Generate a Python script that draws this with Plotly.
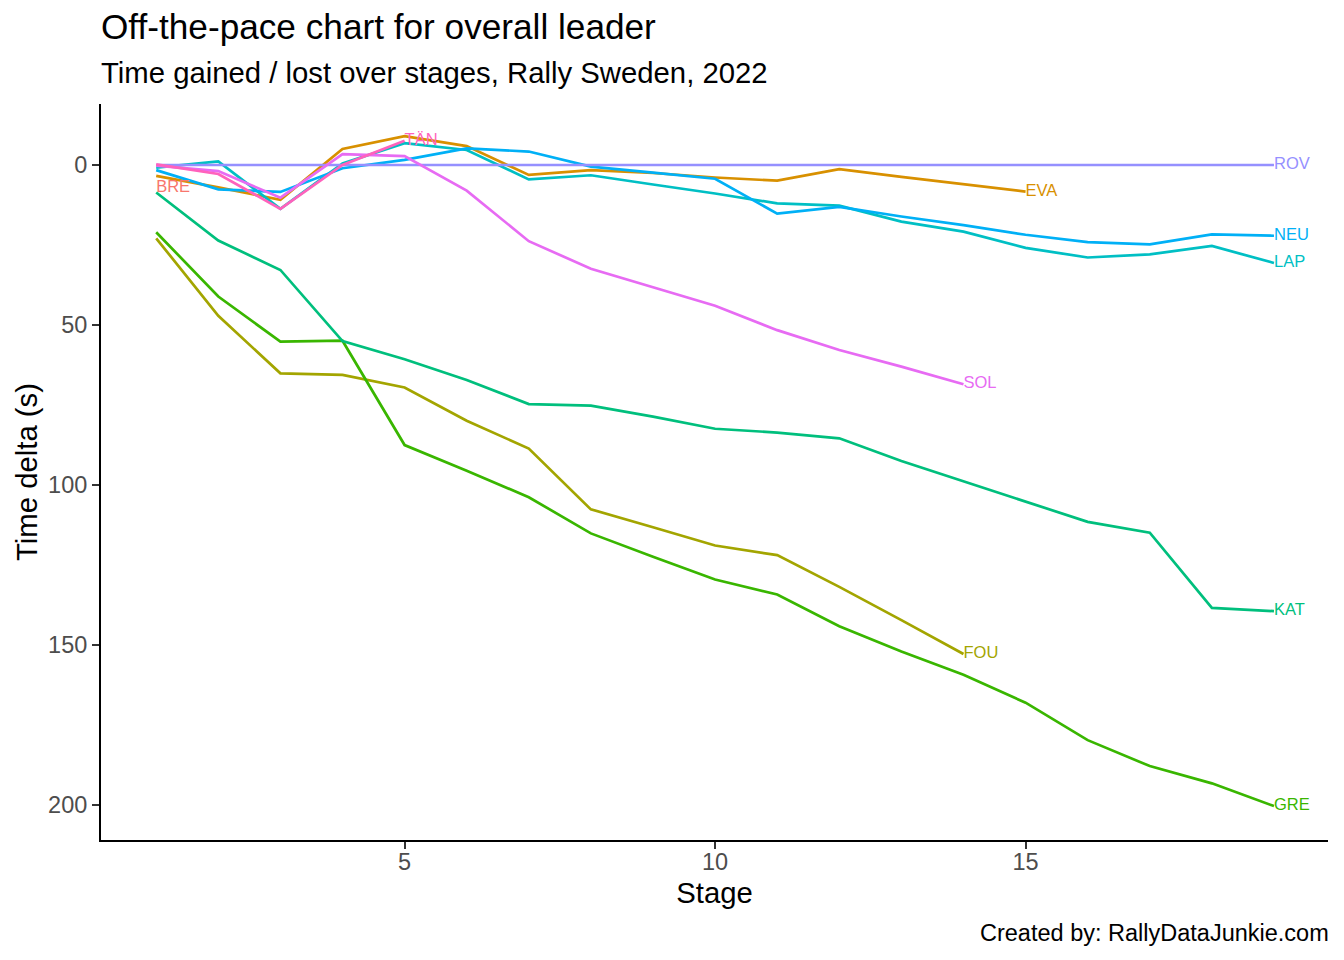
import plotly.graph_objects as go

# ---- data ----
stages = list(range(1, 20))

drivers = ["BRE", "EVA", "FOU", "GRE", "KAT", "LAP", "NEU", "ROV", "SOL", "TÄN"]

BRE = [7.3]
EVA = [3.4, 7.0, 10.9, -5.0, -9.0, -5.9, 3.1, 1.6, 2.5, 3.9, 4.9, 1.3, 3.7, 6.0, 8.3]
FOU = [22.9, 47.1, 65.1, 65.6, 69.5, 79.9, 88.6, 107.6, 113.2, 118.9, 121.9, 131.8, 142.2, 152.8]
GRE = [21.0, 41.1, 55.2, 54.9, 87.5, 95.5, 103.8, 115.1, 122.4, 129.5, 134.2, 144.1, 152.0,
       159.3, 168.0, 179.7, 187.8, 193.2, 200.3]
KAT = [8.6, 23.6, 32.8, 55.0, 60.7, 67.2, 74.7, 75.2, 78.6, 82.4, 83.6, 85.4, 92.5,
       98.8, 105.1, 111.5, 114.9, 138.4, 139.4]
LAP = [0.8, -1.1, 13.7, -0.5, -6.8, -4.7, 4.5, 3.2, 6.1, 8.9, 12.0, 12.7, 17.7,
       20.8, 25.9, 28.9, 27.9, 25.3, 30.6]
NEU = [1.6, 7.6, 8.4, 1.0, -1.6, -5.2, -4.2, 0.5, 2.4, 4.3, 15.2, 13.1, 16.1,
       18.8, 21.8, 24.1, 24.8, 21.7, 22.1]
ROV = [0, 0, 0, 0, 0, 0, 0, 0, 0, 0, 0, 0, 0, 0, 0, 0, 0, 0, 0]
SOL = [0.2, 1.9, 10.2, -3.4, -2.8, 8.0, 23.8, 32.4, 38.2, 44.0, 51.6, 57.8, 63.0, 68.5]
TAN = [-0.2, 2.8, 13.7, 0.0, -7.6]

series = [BRE, EVA, FOU, GRE, KAT, LAP, NEU, ROV, SOL, TAN]

colors = ["#F8766D", "#D89000", "#A3A500", "#39B600", "#00BF7D",
          "#00BFC4", "#00B0F6", "#9590FF", "#E76BF3", "#FF62BC"]

title_text = "Off-the-pace chart for overall leader"
subtitle_text = "Time gained / lost over stages, Rally Sweden, 2022"
caption_text = "Created by: RallyDataJunkie.com"
x_title = "Stage"
y_title = "Time delta (s)"
x_ticks = [5, 10, 15]
y_ticks = [0, 50, 100, 150, 200]

FONT = "Liberation Sans, Arial, Helvetica, sans-serif"

fig = go.Figure()

for name, vals, col in zip(drivers, series, colors):
    fig.add_trace(go.Scatter(
        x=stages[:len(vals)], y=vals, mode="lines", name=name,
        line=dict(color=col, width=2.7), hoverinfo="x+y+name",
    ))

for name, vals, col in zip(drivers, series, colors):
    fig.add_trace(go.Scatter(
        x=[stages[len(vals) - 1]], y=[vals[-1]], mode="text", text=[name],
        textposition="middle right", cliponaxis=False,
        textfont=dict(family=FONT, size=16.5, color=col), hoverinfo="skip",
    ))

axis_common = dict(
    showgrid=False, zeroline=False, showline=True, linecolor="black", linewidth=2,
    ticks="outside", ticklen=7, tickwidth=2, tickcolor="#333333",
    tickfont=dict(family=FONT, size=23.5, color="#4D4D4D"),
)

# the page adds an 8 px body margin, so the figure is 8 px smaller each way
fig.update_layout(
    width=1336, height=952,
    margin=dict(l=93, r=16, t=96, b=120),
    plot_bgcolor="white", paper_bgcolor="white",
    showlegend=False,
    font=dict(family=FONT, color="black"),
    xaxis=dict(range=[0.111, 19.87], tickvals=x_ticks, ticklabelstandoff=-7,
               title=dict(text=x_title, font=dict(family=FONT, size=29.3, color="black"), standoff=8),
               **axis_common),
    yaxis=dict(range=[210.9, -19.06], tickvals=y_ticks,
               title=dict(text=y_title, font=dict(family=FONT, size=29.3, color="black"), standoff=2),
               **axis_common),
    annotations=[
        dict(text=title_text, xref="paper", yref="paper", x=-2 / 1227, y=(840 - 27) / 736,
             xanchor="left", yanchor="middle", showarrow=False,
             font=dict(family=FONT, size=35.2, color="black")),
        dict(text=subtitle_text, xref="paper", yref="paper", x=-2 / 1227, y=(840 - 73) / 736,
             xanchor="left", yanchor="middle", showarrow=False,
             font=dict(family=FONT, size=29.3, color="black")),
        dict(text=caption_text, xref="paper", yref="paper", x=1 + 3 / 1227, y=(840 - 933) / 736,
             xanchor="right", yanchor="middle", showarrow=False,
             font=dict(family=FONT, size=23.5, color="black")),
    ],
)

fig.write_html("out.html")
